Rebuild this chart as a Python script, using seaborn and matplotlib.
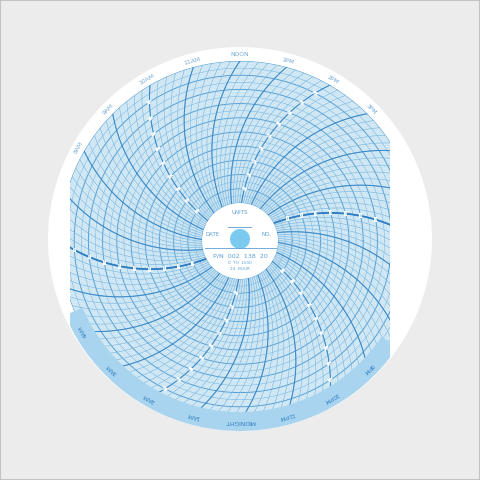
import numpy as np
import pandas as pd
import seaborn as sns
import matplotlib.pyplot as plt
from matplotlib.patches import Circle, Polygon, Wedge, Rectangle

# hour names printed round the rim, index = hour of day
hour_labels = ["MIDNIGHT", "1AM", "2AM", "3AM", "4AM", "5AM", "6AM", "7AM",
               "8AM", "9AM", "10AM", "11AM", "NOON", "1PM", "2PM", "3PM",
               "4PM", "5PM", "6PM", "7PM", "8PM", "9PM", "10PM", "11PM"]
# hour lines that carry the little scale numbers
scale_hours = [2, 6, 10, 14, 18, 22]
scale_values = [100, 200, 300, 400, 500, 600, 700, 800, 900]
scale_digits = ["1", "2", "3", "4", "5", "6", "7", "8", "9"]
# centre label
center_title = "UNITS"
center_left = "DATE"
center_right = "NO."
center_part = "P/N  002  138  20"
center_range = "0  TO  1000"
center_period = "24  HOUR"

CY = -1.0            # chart centre (y)
R_IN, R_OUT = 38, 180
ARC_H = 130          # offset of pen-arc centre
STRIP = (-170, 150)  # printed part of the photo

def ring_radius(v):
    return R_IN + v / 1000 * (R_OUT - R_IN)

def clamp_circle(r, n=720):
    a = np.linspace(0, 2 * np.pi, n)
    x = np.clip(r * np.cos(a), *STRIP)
    return np.column_stack([x, CY + r * np.sin(a)])

def hour_arc(t, n=90):
    th = np.radians(270 - 15 * t)
    u = np.array([np.cos(th), np.sin(th)])
    w = np.array([np.sin(th), -np.cos(th)])
    c = R_OUT / 2 * u + ARC_H * w
    rp = np.hypot(*c)
    p = R_OUT * u
    a0 = np.arctan2(-c[1], -c[0])
    a1 = np.arctan2(p[1] - c[1], p[0] - c[0])
    d = (a1 - a0 + np.pi) % (2 * np.pi) - np.pi
    a = a0 + d * np.linspace(0, 1, n)
    x = c[0] + rp * np.cos(a)
    y = c[1] + rp * np.sin(a)
    return x, y

def arc_frame(times):
    parts = []
    for i, t in enumerate(times):
        x, y = hour_arc(t)
        keep = np.hypot(x, y) >= R_IN - 3
        parts.append(pd.DataFrame({"x": x[keep], "y": y[keep] + CY, "id": i}))
    return pd.concat(parts, ignore_index=True)

def ring_frame(values):
    a = np.linspace(0, 2 * np.pi, 361)
    parts = []
    for i, v in enumerate(values):
        r = ring_radius(v)
        parts.append(pd.DataFrame({"x": r * np.cos(a), "y": CY + r * np.sin(a), "id": i}))
    return pd.concat(parts, ignore_index=True)

fig = plt.figure(figsize=(4.8, 4.8), dpi=100)
fig.patch.set_facecolor("#ececec")
ax = fig.add_axes([0, 0, 1, 1])
ax.set_facecolor("#ececec")

grid_clip = Polygon(clamp_circle(R_OUT), closed=True, transform=ax.transData)

def draw(df, color, lw, alpha=1.0):
    n0 = len(ax.lines)
    sns.lineplot(data=df, x="x", y="y", units="id", estimator=None, sort=False,
                 color=color, linewidth=lw, alpha=alpha, ax=ax, legend=False)
    for ln in ax.lines[n0:]:
        ln.set_clip_path(grid_clip)
        ln.set_zorder(3)

# paper and tint
ax.add_patch(Circle((0, 1), 192, fc="white", ec="none", zorder=1))
ax.add_patch(Polygon(clamp_circle(R_OUT), closed=True, fc="#dceef7", ec="none", zorder=2))

# rings
draw(ring_frame(np.arange(10, 1000, 10)), "#a9d3ec", 0.25, 0.6)
draw(ring_frame(np.arange(50, 1000, 100)), "#80bce3", 0.45)
draw(ring_frame(np.arange(0, 1001, 100)), "#4f9bd3", 0.7)

# time lines
draw(arc_frame(np.arange(0, 24, 1 / 15)), "#acd5ed", 0.25, 0.6)
draw(arc_frame(np.arange(0, 24, 0.2)), "#7cb9e2", 0.45)
draw(arc_frame(np.arange(0, 24, 1)), "#3d8bc9", 0.8)
draw(arc_frame([6, 18]), "#2e7ec2", 1.3)

# blue band round the lower rim
band = Wedge((0, CY), 190, 203, 326, width=19, fc="#a9d4ef", ec="none", zorder=4)
ax.add_patch(band)
band.set_clip_path(Polygon(clamp_circle(191), closed=True, transform=ax.transData))

# hour names
for h, name in enumerate(hour_labels):
    th = (270 - 15 * h) % 360
    in_band = 203 <= th <= 326
    r = 181 if in_band else 186
    x = r * np.cos(np.radians(th))
    y = CY + r * np.sin(np.radians(th))
    if not (-168 < x < 156):
        continue
    ax.text(x, y, name, rotation=th - 90, ha="center", va="center",
            fontsize=4.3, color="#2e7fc2" if in_band else "#74a9d4", zorder=6)

# scale numbers along some hour lines
for t in scale_hours:
    x, y = hour_arc(t, 400)
    rr = np.hypot(x, y)
    th = (270 - 15 * t) % 360
    rot = th if (th <= 90 or th >= 270) else th - 180
    for v, d in zip(scale_values, scale_digits):
        r = ring_radius(v)
        px, py = np.interp(r, rr, x), np.interp(r, rr, y) + CY
        if not (STRIP[0] + 4 < px < STRIP[1] - 4):
            continue
        ax.text(px, py, d, rotation=rot, ha="center", va="center", fontsize=2.8,
                color="#6aa9d9", zorder=6,
                bbox=dict(boxstyle="square,pad=0.1", fc="white", ec="none"))

# centre label
ax.add_patch(Circle((0, CY), R_IN, fc="white", ec="none", zorder=5))
ax.add_patch(Circle((0, 1), 10, fc="#7dcaf0", ec="none", zorder=6))
txt = dict(ha="center", va="center", color="#5b9fd6", zorder=7)
ax.text(0, 28, center_title, fontsize=4, **txt)
ax.plot([-12, 11], [13, 13], color="#5b9fd6", lw=0.6, zorder=7)
ax.text(-27, 5, center_left, fontsize=4, **txt)
ax.text(26, 5, center_right, fontsize=4, **txt)
ax.plot([-35, 36], [-8, -8], color="#5b9fd6", lw=0.6, zorder=7)
ax.text(0, -16, center_part, fontsize=4.6, **txt)
ax.text(0, -22.5, center_range, fontsize=3, **txt)
ax.text(0, -29, center_period, fontsize=3, **txt)

ax.set_xlim(-240, 240)
ax.set_ylim(-240, 240)
ax.set_aspect("equal")
ax.axis("off")
fig.add_artist(Rectangle((0, 0), 1, 1, transform=fig.transFigure, fill=False,
                         ec="#c2c2c2", lw=1.5))

plt.savefig("out.png", dpi=100, facecolor=fig.get_facecolor())
